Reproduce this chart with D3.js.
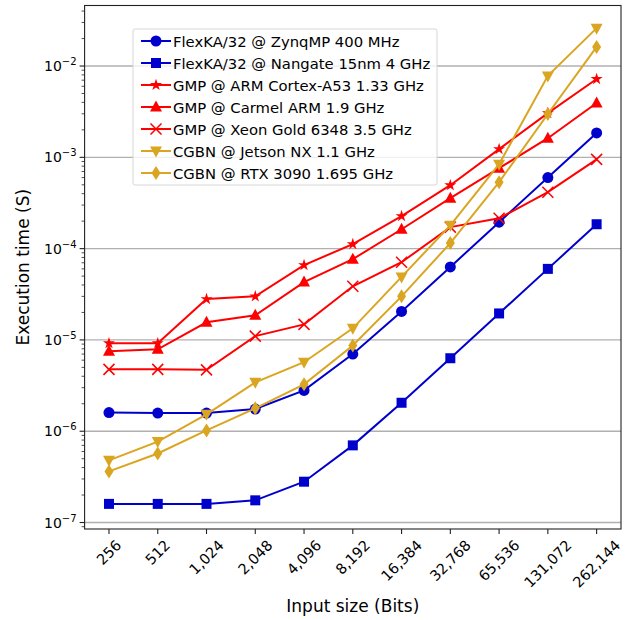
<!DOCTYPE html>
<html>
<head>
<meta charset="utf-8">
<script src="https://cdn.jsdelivr.net/npm/d3@7"></script>
<style>
  body { margin: 0; background: #fff; }
  svg { font-family: "DejaVu Sans", sans-serif; }
</style>
</head>
<body>
<svg width="633" height="620"></svg>
<script>
const svg = d3.select("svg");
const margin = { top: 5.5, right: 12, bottom: 91, left: 84.6 };
const width = +svg.attr("width");
const height = +svg.attr("height");

// input sizes in bits
const sizes = [256, 512, 1024, 2048, 4096, 8192, 16384, 32768, 65536, 131072, 262144];

// execution times (s)
const zynqmp = [1.6e-6, 1.58e-6, 1.58e-6, 1.75e-6, 2.8e-6, 7.0e-6, 2.05e-5, 6.3e-5, 1.95e-4, 6.0e-4, 1.85e-3];
const nangate = [1.6e-7, 1.6e-7, 1.6e-7, 1.75e-7, 2.8e-7, 7.0e-7, 2.05e-6, 6.3e-6, 1.95e-5, 6.0e-5, 1.85e-4];
const cortexA53 = [9.2e-6, 9.2e-6, 2.8e-5, 3.0e-5, 6.6e-5, 1.12e-4, 2.27e-4, 4.95e-4, 1.23e-3, 3.05e-3, 7.2e-3];
const carmel = [7.5e-6, 7.9e-6, 1.56e-5, 1.86e-5, 4.3e-5, 7.66e-5, 1.63e-4, 3.57e-4, 7.6e-4, 1.62e-3, 3.93e-3];
const xeon = [4.76e-6, 4.76e-6, 4.7e-6, 1.1e-5, 1.48e-5, 3.87e-5, 7.1e-5, 1.72e-4, 2.15e-4, 4.15e-4, 9.5e-4];
const jetson = [4.8e-7, 7.7e-7, 1.53e-6, 3.43e-6, 5.7e-6, 1.34e-5, 4.9e-5, 1.8e-4, 8.4e-4, 7.8e-3, 2.6e-2];
const rtx3090 = [3.63e-7, 5.7e-7, 1.02e-6, 1.78e-6, 3.26e-6, 8.7e-6, 3.0e-5, 1.15e-4, 5.35e-4, 2.98e-3, 1.62e-2];

const seriesNames = [
  "FlexKA/32 @ ZynqMP 400 MHz",
  "FlexKA/32 @ Nangate 15nm 4 GHz",
  "GMP @ ARM Cortex-A53 1.33 GHz",
  "GMP @ Carmel ARM 1.9 GHz",
  "GMP @ Xeon Gold 6348 3.5 GHz",
  "CGBN @ Jetson NX 1.1 GHz",
  "CGBN @ RTX 3090 1.695 GHz"
];
const seriesValues = [zynqmp, nangate, cortexA53, carmel, xeon, jetson, rtx3090];
const seriesColors = ["#0000cd", "#0000cd", "#ff0000", "#ff0000", "#ff0000", "#daa520", "#daa520"];
const seriesMarkers = ["circle", "square", "star", "triangle", "x", "triangleDown", "diamond"];

const yTicks = [1e-7, 1e-6, 1e-5, 1e-4, 1e-3, 1e-2];

const x = d3.scaleLog().base(2)
  .domain([256 / Math.SQRT2, 262144 * Math.SQRT2])
  .range([margin.left, width - margin.right]);

const y = d3.scaleLog()
  .domain([Math.pow(10, -7.071), Math.pow(10, -1.337)])
  .range([height - margin.bottom, margin.top]);

// grid lines at decades
svg.append("g")
  .selectAll("line")
  .data(yTicks)
  .join("line")
  .attr("x1", margin.left)
  .attr("x2", width - margin.right)
  .attr("y1", d => y(d))
  .attr("y2", d => y(d))
  .attr("stroke", "#b0b0b0")
  .attr("stroke-width", 1.4);

// minor ticks
const minor = [];
for (let e = -8; e <= -1; e++) {
  for (let m = 2; m <= 9; m++) {
    const v = m * Math.pow(10, e);
    if (v >= y.domain()[0] && v <= y.domain()[1]) minor.push(v);
  }
}
svg.append("g")
  .selectAll("line")
  .data(minor)
  .join("line")
  .attr("x1", margin.left - 3)
  .attr("x2", margin.left)
  .attr("y1", d => y(d))
  .attr("y2", d => y(d))
  .attr("stroke", "#222")
  .attr("stroke-width", 0.8);

// major y ticks + labels
const yAxis = svg.append("g");
yAxis.selectAll("line")
  .data(yTicks)
  .join("line")
  .attr("x1", margin.left - 5)
  .attr("x2", margin.left)
  .attr("y1", d => y(d))
  .attr("y2", d => y(d))
  .attr("stroke", "#222")
  .attr("stroke-width", 1.1);

const yLab = yAxis.selectAll("text")
  .data(yTicks)
  .join("text")
  .attr("x", margin.left - 8)
  .attr("y", d => y(d) + 5)
  .attr("text-anchor", "end")
  .attr("font-size", 14)
  .attr("fill", "#000");
yLab.append("tspan").text("10");
yLab.append("tspan")
  .attr("dy", -6)
  .attr("font-size", 10)
  .text(d => "\u2212" + Math.round(-Math.log10(d)));

// x ticks
const xAxis = svg.append("g");
xAxis.selectAll("line")
  .data(sizes)
  .join("line")
  .attr("x1", d => x(d))
  .attr("x2", d => x(d))
  .attr("y1", height - margin.bottom)
  .attr("y2", height - margin.bottom + 5)
  .attr("stroke", "#222")
  .attr("stroke-width", 1.1);

xAxis.selectAll("text")
  .data(sizes)
  .join("text")
  .attr("font-size", 14.5)
  .attr("text-anchor", "middle")
  .attr("dominant-baseline", "central")
  .text(d => d3.format(",")(d))
  .each(function (d) {
    const w = this.getComputedTextLength();
    const h = 13;
    const bh = (w + h) * Math.SQRT1_2;
    const cy = height - margin.bottom + 9 + bh / 2;
    d3.select(this)
      .attr("transform", `translate(${x(d)},${cy}) rotate(-45)`);
  });

// frame
svg.append("rect")
  .attr("x", margin.left)
  .attr("y", margin.top)
  .attr("width", width - margin.right - margin.left)
  .attr("height", height - margin.bottom - margin.top)
  .attr("fill", "none")
  .attr("stroke", "#222")
  .attr("stroke-width", 1.1);

// axis titles
svg.append("text")
  .attr("x", (margin.left + width - margin.right) / 2)
  .attr("y", 612)
  .attr("text-anchor", "middle")
  .attr("font-size", 17)
  .text("Input size (Bits)");

svg.append("text")
  .attr("transform", `translate(29,${(margin.top + height - margin.bottom) / 2}) rotate(-90)`)
  .attr("text-anchor", "middle")
  .attr("font-size", 17)
  .text("Execution time (S)");

// markers
function drawMarker(g, type, color) {
  if (type === "circle") {
    g.append("circle").attr("r", 5.5).attr("fill", color);
  } else if (type === "square") {
    g.append("rect").attr("x", -5).attr("y", -5).attr("width", 10).attr("height", 10).attr("fill", color);
  } else if (type === "star") {
    g.append("path").attr("d", d3.symbol(d3.symbolStar, 45)()).attr("fill", color);
  } else if (type === "triangle") {
    g.append("path").attr("d", "M0,-6.5L6,4.5L-6,4.5Z").attr("fill", color);
  } else if (type === "triangleDown") {
    g.append("path").attr("d", "M0,6.5L6,-4.5L-6,-4.5Z").attr("fill", color);
  } else if (type === "diamond") {
    g.append("path").attr("d", "M0,-7L4.5,0L0,7L-4.5,0Z").attr("fill", color);
  } else if (type === "x") {
    g.append("path").attr("d", "M-5.5,-5.5L5.5,5.5M-5.5,5.5L5.5,-5.5")
      .attr("stroke", color).attr("stroke-width", 1.5).attr("fill", "none");
  }
}

const line = d3.line()
  .x((d, i) => x(sizes[i]))
  .y(d => y(d));

seriesValues.forEach((vals, s) => {
  const g = svg.append("g");
  g.append("path")
    .datum(vals)
    .attr("d", line)
    .attr("fill", "none")
    .attr("stroke", seriesColors[s])
    .attr("stroke-width", 2);
  g.selectAll("g")
    .data(vals)
    .join("g")
    .attr("transform", (d, i) => `translate(${x(sizes[i])},${y(d)})`)
    .each(function () { drawMarker(d3.select(this), seriesMarkers[s], seriesColors[s]); });
});

// legend
const legend = svg.append("g").attr("transform", "translate(133,29)");
legend.append("rect")
  .attr("width", 304)
  .attr("height", 156)
  .attr("rx", 2)
  .attr("fill", "rgba(255,255,255,0.8)")
  .attr("stroke", "#d6d6d6")
  .attr("stroke-width", 1);

seriesNames.forEach((name, s) => {
  const row = legend.append("g").attr("transform", `translate(0,${12 + s * 22})`);
  row.append("line")
    .attr("x1", 8).attr("x2", 38)
    .attr("stroke", seriesColors[s]).attr("stroke-width", 2);
  const m = row.append("g").attr("transform", "translate(23,0)");
  drawMarker(m, seriesMarkers[s], seriesColors[s]);
  row.append("text")
    .attr("x", 40)
    .attr("y", 5.5)
    .attr("font-size", 14.8)
    .text(name);
});
</script>
</body>
</html>
